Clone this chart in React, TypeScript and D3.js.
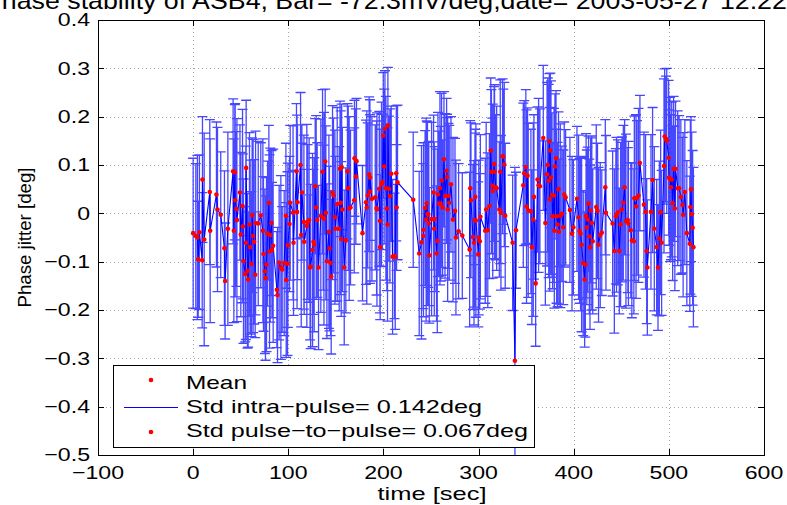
import * as d3 from "d3";
import { useEffect, useRef } from "react";

const W = 787;
const H = 505;

// time stamps [sec], mean phase [deg] and intra-pulse std [deg]
const timeSec = [
  0, 2.8, 4.5, 5.3, 6.6, 9.5, 9.8, 11.6, 17.5, 17.9,
  24.5, 25.6, 29, 32.9, 33.6, 36.5, 42, 42.8, 43.8, 44.2,
  45.5, 46, 49.2, 50.1, 51.9, 52.3, 52.9, 54.7, 55.4, 55.7,
  57.1, 57.8, 59.2, 59.9, 61.3, 62, 63, 64.1, 65.2, 65.6,
  68.4, 71.1, 73.3, 73.9, 75.4, 76, 77.1, 78.2, 79.6, 80.3,
  81, 82.4, 82.8, 84.1, 88, 88.7, 90.4, 92.2, 93.6, 95.7,
  97.5, 97.8, 99.2, 99.6, 101.3, 102, 105, 105.5, 108.6, 109.2,
  109.7, 112.9, 113.6, 114.3, 116.4, 116.7, 119.5, 120.3, 121.9, 122.9,
  123.5, 125.5, 126.5, 127.2, 128.3, 129.3, 130.4, 131.8, 134.2, 136,
  136.7, 137.5, 138.8, 139.5, 140.6, 142.7, 143.3, 144.4, 145.1, 146.5,
  147.5, 149, 149.5, 151.4, 153.5, 154.4, 155.1, 155.6, 156.1, 156.8,
  158.8, 160.5, 162.2, 163, 164, 165.4, 169.3, 169.6, 171, 171.7,
  178, 181.7, 182.5, 183.5, 185, 185.8, 186, 187.9, 191.4, 192.8,
  193.2, 195.6, 196.3, 196.6, 198, 199, 199.8, 200.8, 201.6, 202.6,
  203.6, 204.3, 204.7, 205.8, 206.8, 208.2, 209.6, 211.6, 212.4, 213.5,
  213.8, 214.8, 231.3, 237.6, 240, 241.8, 242.1, 243.8, 244.9, 245.6,
  246.3, 247, 247.7, 248.2, 250.6, 252.7, 253.4, 254, 255.8, 256.6,
  257.3, 258.3, 259.4, 260.2, 261.1, 262.2, 263.6, 264.7, 266.4, 266.8,
  267.5, 268.3, 269.2, 271, 273.1, 275.2, 276.2, 279, 282.9, 290.6,
  291.3, 292, 294.1, 295.2, 296.2, 296.5, 297.2, 299.7, 300.2, 301.3,
  301.9, 307, 308, 309.7, 311.4, 312.8, 313.5, 314.5, 314.9, 316.3,
  316.8, 318.1, 319, 321.8, 322.8, 323.5, 325.2, 326, 327, 328,
  335.8, 338.2, 339.3, 347, 348, 349.7, 350.4, 351.5, 352.2, 355,
  356, 357.5, 358.2, 360, 362, 363.1, 364.5, 368, 370.2, 372,
  372.7, 373.7, 374.4, 374.7, 375.4, 376.1, 377.2, 377.8, 379.3, 379.6,
  380.3, 381.4, 382, 383, 384, 384.5, 385.9, 387.5, 389, 390,
  391.5, 396, 398.2, 399.6, 403.4, 405.1, 406.2, 407.2, 408.3, 410,
  411.5, 412.2, 413, 413.8, 414.7, 415.6, 416.4, 417.1, 417.8, 419,
  420, 423.7, 425, 426.1, 427.9, 429.5, 433.2, 433.9, 440.9, 442.7,
  444.3, 445, 446.5, 447.9, 449.3, 450.7, 452.1, 453.5, 454.9, 456.9,
  457.5, 460, 461.1, 463.2, 463.7, 465.5, 466.5, 468.1, 469.6, 473.8,
  475.5, 476.7, 477.4, 481.2, 482.9, 484.7, 487.2, 488.6, 490, 491.4,
  492.4, 494.9, 495.6, 497, 497.8, 499.8, 500.2, 501.2, 502.2, 503,
  504, 505, 506.3, 507, 509.3, 510.8, 512.6, 514.3, 515, 516.8,
  518.9, 522, 522.6, 523.3, 524, 525, 525.8,
];

const meanDeg = [
  -0.041, -0.047, -0.05, -0.095, -0.039, -0.097, 0.07, -0.054, 0.044, -0.036,
  0.039, 0.008, -0.003, -0.072, -0.14, -0.032, 0.087, -0.036, 0.085, 0.027,
  0.009, -0.014, 0.043, -0.044, 0.015, -0.027, -0.099, -0.126, -0.061, 0.094,
  -0.119, -0.137, -0.023, -0.07, -0.105, -0.004, -0.047, -0.059, -0.127, -0.02,
  -0.021, -0.004, -0.036, -0.084, -0.12, -0.134, -0.106, -0.042, 0.022, -0.079,
  -0.045, -0.02, -0.076, -0.067, -0.158, -0.169, -0.102, -0.112, -0.116, -0.103,
  -0.005, -0.138, -0.104, -0.066, -0.022, 0.022, 0.001, -0.061, 0.087, 0.003,
  0.023, 0.1, -0.045, 0.043, -0.018, -0.059, -0.026, -0.018, -0.014, -0.112,
  -0.11, -0.076, -0.059, -0.065, 0.056, 0.012, -0.014, -0.112, -0.005, 0.086,
  -0.009, -0.011, 0.107, 0.001, -0.099, -0.038, -0.073, -0.103, -0.131, 0.043,
  0.037, -0.008, -0.032, 0.019, -0.032, 0.092, 0.022, -0.053, 0.096, 0.008,
  -0.112, -0.056, 0.087, 0.052, 0.01, 0.012, 0.027, 0.114, 0.076, 0.108,
  -0.041, 0.023, 0.012, 0.037, 0.081, 0.045, 0.074, 0.03, 0.033, 0.011,
  0.008, 0.051, -0.016, -0.07, 0.06, 0.065, 0.161, 0.097, 0.175, 0.052,
  0.01, -0.023, 0.182, 0.051, 0.036, 0.082, -0.09, -0.088, -0.09, 0.083,
  0.012, 0.064, 0.028, -0.083, -0.06, -0.047, -0.034, 0.011, -0.013, 0.021,
  -0.001, -0.003, -0.021, -0.087, -0.012, 0.043, -0.032, -0.012, -0.083, -0.057,
  0.039, 0.02, 0.052, 0.02, 0.068, 0.012, 0.112, 0.036, 0.088, 0.075,
  0.008, 0.036, 0.022, 0.06, -0.013, 0.005, -0.05, -0.037, -0.046, -0.075,
  0.052, 0.027, -0.049, -0.061, -0.014, 0.034, -0.015, -0.085, -0.05, -0.058,
  -0.007, -0.036, 0.008, -0.035, 0.015, 0.13, 0.086, 0.057, 0.046, 0.102,
  0.086, 0.054, 0.052, 0.008, 0.086, 0.001, 0.118, 0.117, 0.101, -0.005,
  -0.061, -0.305, -0.035, 0.058, 0.083, 0.096, 0.014, 0.078, 0.006, 0.004,
  -0.07, -0.013, 0.034, -0.145, 0.07, 0.058, 0.056, 0.156, -0.02, 0.081,
  0.1, 0.067, 0.149, 0.029, 0.13, 0.074, 0.038, -0.006, 0.037, -0.036,
  0.097, 0.114, -0.006, -0.023, 0.05, -0.038, -0.005, -0.001, -0.029, 0.039,
  0.033, 0.007, -0.042, -0.029, 0.03, -0.008, -0.036, -0.042, -0.065, -0.103,
  -0.137, -0.106, -0.005, -0.029, -0.013, 0.02, -0.048, -0.07, 0.006, -0.02,
  -0.058, 0.013, 0.005, -0.065, -0.045, -0.04, 0.054, 0.001, -0.021, -0.078,
  -0.006, -0.003, 0.002, -0.078, -0.023, 0.008, 0.022, 0.054, -0.016, -0.014,
  -0.021, -0.035, -0.056, -0.058, 0.031, 0.014, 0.032, 0.037, 0.104, 0.018,
  0.003, -0.078, -0.112, 0.003, 0.069, -0.032, -0.07, -0.112, -0.052, 0.002,
  -0.061, 0.098, 0.159, 0.154, 0.15, 0.115, 0.074, 0.07, 0.054, 0.07,
  0.021, 0.092, 0.01, 0.092, 0.052, 0.052, 0.034, 0.017, -0.003, 0.044,
  -0.041, -0.063, 0.013, 0.05, -0.002, -0.03, -0.07,
];

const stdDeg = [
  0.155, 0.15, 0.17, 0.12, 0.16, 0.14, 0.13, 0.22, 0.15, 0.19,
  0.15, 0.17, 0.13, 0.16, 0.12, 0.2, 0.15, 0.19, 0.14, 0.2,
  0.16, 0.21, 0.14, 0.17, 0.2, 0.15, 0.17, 0.14, 0.2, 0.14,
  0.16, 0.14, 0.19, 0.18, 0.15, 0.16, 0.2, 0.17, 0.13, 0.19,
  0.17, 0.15, 0.19, 0.16, 0.17, 0.17, 0.18, 0.15, 0.16, 0.2,
  0.18, 0.15, 0.14, 0.2, 0.12, 0.14, 0.16, 0.19, 0.13, 0.15,
  0.15, 0.16, 0.19, 0.17, 0.14, 0.16, 0.18, 0.15, 0.14, 0.2,
  0.16, 0.15, 0.19, 0.14, 0.18, 0.15, 0.21, 0.16, 0.17, 0.15,
  0.17, 0.2, 0.15, 0.18, 0.14, 0.19, 0.16, 0.17, 0.2, 0.17,
  0.15, 0.22, 0.15, 0.18, 0.16, 0.2, 0.17, 0.15, 0.16, 0.18,
  0.16, 0.18, 0.15, 0.2, 0.17, 0.14, 0.19, 0.16, 0.13, 0.17,
  0.16, 0.15, 0.14, 0.17, 0.19, 0.16, 0.15, 0.12, 0.14, 0.13,
  0.14, 0.17, 0.2, 0.15, 0.16, 0.19, 0.13, 0.17, 0.15, 0.18,
  0.2, 0.16, 0.19, 0.15, 0.17, 0.14, 0.13, 0.16, 0.12, 0.19,
  0.17, 0.2, 0.12, 0.15, 0.18, 0.14, 0.16, 0.13, 0.15, 0.14,
  0.13, 0.16, 0.14, 0.17, 0.2, 0.15, 0.18, 0.16, 0.21, 0.17,
  0.19, 0.15, 0.17, 0.14, 0.2, 0.16, 0.18, 0.15, 0.14, 0.19,
  0.17, 0.15, 0.2, 0.16, 0.18, 0.14, 0.14, 0.17, 0.15, 0.13,
  0.19, 0.15, 0.16, 0.14, 0.17, 0.15, 0.16, 0.14, 0.13, 0.16,
  0.14, 0.16, 0.15, 0.17, 0.18, 0.14, 0.2, 0.15, 0.16, 0.14,
  0.17, 0.15, 0.18, 0.16, 0.15, 0.15, 0.17, 0.14, 0.18, 0.16,
  0.18, 0.15, 0.17, 0.14, 0.19, 0.16, 0.16, 0.14, 0.17, 0.15,
  0.14, 0.4, 0.12, 0.17, 0.15, 0.16, 0.2, 0.14, 0.18, 0.17,
  0.16, 0.2, 0.17, 0.13, 0.15, 0.18, 0.16, 0.15, 0.17, 0.19,
  0.18, 0.2, 0.14, 0.19, 0.16, 0.2, 0.17, 0.15, 0.18, 0.16,
  0.15, 0.14, 0.18, 0.17, 0.16, 0.15, 0.19, 0.14, 0.16, 0.15,
  0.14, 0.15, 0.16, 0.14, 0.15, 0.17, 0.15, 0.16, 0.18, 0.15,
  0.14, 0.15, 0.17, 0.16, 0.15, 0.14, 0.16, 0.17, 0.15, 0.18,
  0.15, 0.17, 0.14, 0.16, 0.15, 0.13, 0.14, 0.16, 0.15, 0.17,
  0.14, 0.16, 0.15, 0.13, 0.17, 0.15, 0.16, 0.14, 0.18, 0.15,
  0.17, 0.14, 0.16, 0.15, 0.17, 0.19, 0.16, 0.18, 0.14, 0.15,
  0.16, 0.15, 0.14, 0.16, 0.15, 0.17, 0.14, 0.13, 0.16, 0.17,
  0.15, 0.18, 0.14, 0.13, 0.15, 0.16, 0.14, 0.17, 0.15, 0.16,
  0.16, 0.15, 0.17, 0.14, 0.16, 0.15, 0.16, 0.14, 0.17, 0.15,
  0.15, 0.14, 0.18, 0.15, 0.17, 0.16, 0.165,
];

const xTicks = [-100, 0, 100, 200, 300, 400, 500, 600];
const yTicks = [-0.5, -0.4, -0.3, -0.2, -0.1, 0, 0.1, 0.2, 0.3, 0.4];
const titleText = "Phase stability of ASB4, Bar= -72.3mV/deg,date= 2003-05-27 12:22:22";
const xLabel = "time [sec]";
const yLabel = "Phase jitter [deg]";
const legendLabels = ["Mean", "Std intra\u2212pulse= 0.142deg", "Std pulse\u2212to\u2212pulse= 0.067deg"];

const FONT = "'Liberation Sans', Arial, Helvetica, sans-serif";

const fmt = (v: number) => {
  const s = Math.abs(v) < 1e-9 ? "0" : String(Math.round(v * 10) / 10);
  return s.replace("-", "\u2212");
};

const App = () => {
  const svgRef = useRef<SVGSVGElement>(null);

  useEffect(() => {
    document.body.style.margin = "0";
    const svg = d3.select(svgRef.current);
    svg.selectAll("*").remove();

    const left = 98, right = 764, top = 20, bottom = 455;
    const x = d3.scaleLinear().domain([-100, 600]).range([left, right]);
    const y = d3.scaleLinear().domain([-0.5, 0.4]).range([bottom, top]);

    svg.append("rect").attr("width", W).attr("height", H).attr("fill", "#fff");

    // title (its upper half is cut off by the page edge, as in the source)
    svg
      .append("text")
      .attr("x", -16)
      .attr("y", 9)
      .attr("font-family", FONT)
      .attr("font-size", 24)
      .attr("textLength", 840)
      .attr("lengthAdjust", "spacingAndGlyphs")
      .text(titleText);

    // grid
    const grid = svg
      .append("g")
      .attr("stroke", "#a8a8a8")
      .attr("stroke-width", 1)
      .attr("stroke-dasharray", "1,3");
    xTicks.slice(1, -1).forEach((t) => {
      grid.append("line").attr("x1", Math.round(x(t)) + 0.5).attr("x2", Math.round(x(t)) + 0.5)
        .attr("y1", top).attr("y2", bottom);
    });
    yTicks.slice(1, -1).forEach((t) => {
      grid.append("line").attr("y1", Math.round(y(t)) + 0.5).attr("y2", Math.round(y(t)) + 0.5)
        .attr("x1", left).attr("x2", right);
    });

    // data, clipped to the axes
    svg.append("defs").append("clipPath").attr("id", "plotArea")
      .append("rect").attr("x", left).attr("y", top).attr("width", right - left).attr("height", bottom - top);
    const plot = svg.append("g").attr("clip-path", "url(#plotArea)");

    const n = Math.min(timeSec.length, meanDeg.length, stdDeg.length);
    const pts = d3.range(n).map((i) => ({ t: timeSec[i], m: meanDeg[i], s: stdDeg[i] }));
    const tee = (d3.max(timeSec)! - d3.min(timeSec)!) / 100;

    const bars = d3.path();
    pts.forEach((p) => {
      const cx = x(p.t);
      const lo = y(p.m - p.s);
      const hi = y(p.m + p.s);
      const xl = x(p.t - tee);
      const xr = x(p.t + tee);
      bars.moveTo(cx, lo);
      bars.lineTo(cx, hi);
      bars.moveTo(xl, hi);
      bars.lineTo(xr, hi);
      bars.moveTo(xl, lo);
      bars.lineTo(xr, lo);
    });
    plot.append("path")
      .attr("d", bars.toString())
      .attr("fill", "none")
      .attr("stroke", "#0000ff")
      .attr("stroke-opacity", 0.72)
      .attr("stroke-width", 1.3);

    const line = d3.line<{ t: number; m: number }>().x((d) => x(d.t)).y((d) => y(d.m));
    plot.append("path")
      .datum(pts)
      .attr("d", line)
      .attr("fill", "none")
      .attr("stroke", "#0000ff")
      .attr("stroke-width", 1.1);

    plot.append("g")
      .selectAll("circle")
      .data(pts)
      .join("circle")
      .attr("cx", (d) => x(d.t))
      .attr("cy", (d) => y(d.m))
      .attr("r", 2.3)
      .attr("fill", "#ff0000");

    // axes box and inward ticks
    const axes = svg.append("g").attr("stroke", "#000").attr("stroke-width", 1);
    axes.append("rect").attr("x", left + 0.5).attr("y", top + 0.5)
      .attr("width", right - left).attr("height", bottom - top).attr("fill", "none");
    const tl = 6;
    xTicks.forEach((t) => {
      const px = Math.round(x(t)) + 0.5;
      axes.append("line").attr("x1", px).attr("x2", px).attr("y1", bottom).attr("y2", bottom - tl);
      axes.append("line").attr("x1", px).attr("x2", px).attr("y1", top).attr("y2", top + tl);
    });
    yTicks.forEach((t) => {
      const py = Math.round(y(t)) + 0.5;
      axes.append("line").attr("y1", py).attr("y2", py).attr("x1", left).attr("x2", left + tl);
      axes.append("line").attr("y1", py).attr("y2", py).attr("x1", right).attr("x2", right - tl);
    });

    // tick labels (horizontally stretched like the source)
    xTicks.forEach((t) => {
      svg.append("g")
        .attr("transform", `translate(${x(t)},479) scale(1.25,1)`)
        .append("text")
        .attr("text-anchor", "middle")
        .attr("font-family", FONT)
        .attr("font-size", 18.5)
        .text(fmt(t));
    });
    yTicks.forEach((t) => {
      svg.append("g")
        .attr("transform", `translate(90,${y(t)}) scale(1.25,1)`)
        .append("text")
        .attr("text-anchor", "end")
        .attr("dy", "0.35em")
        .attr("font-family", FONT)
        .attr("font-size", 18.5)
        .text(fmt(t));
    });

    svg.append("text")
      .attr("x", 432)
      .attr("y", 500)
      .attr("text-anchor", "middle")
      .attr("font-family", FONT)
      .attr("font-size", 18.5)
      .attr("textLength", 109)
      .attr("lengthAdjust", "spacingAndGlyphs")
      .text(xLabel);

    svg.append("text")
      .attr("transform", `translate(31,${(top + bottom) / 2}) rotate(-90)`)
      .attr("text-anchor", "middle")
      .attr("font-family", FONT)
      .attr("font-size", 18.5)
      .attr("textLength", 140)
      .attr("lengthAdjust", "spacingAndGlyphs")
      .text(yLabel);

    // legend
    const lg = svg.append("g");
    lg.append("rect").attr("x", 113.5).attr("y", 365.5).attr("width", 421).attr("height", 82)
      .attr("fill", "#fff").attr("stroke", "#000").attr("stroke-width", 1);
    lg.append("circle").attr("cx", 151).attr("cy", 380).attr("r", 2.3).attr("fill", "#ff0000");
    lg.append("line").attr("x1", 124).attr("x2", 178).attr("y1", 407.5).attr("y2", 407.5)
      .attr("stroke", "#0000ff").attr("stroke-width", 1);
    lg.append("circle").attr("cx", 151).attr("cy", 432).attr("r", 2.3).attr("fill", "#ff0000");
    const lens = [61, 296, 342];
    const bases = [389, 413, 437];
    legendLabels.forEach((lab, i) => {
      lg.append("text")
        .attr("x", 186)
        .attr("y", bases[i])
        .attr("font-family", FONT)
        .attr("font-size", 18.5)
        .attr("textLength", lens[i])
        .attr("lengthAdjust", "spacingAndGlyphs")
        .text(lab);
    });
  }, []);

  return <svg ref={svgRef} width={W} height={H} style={{ display: "block" }}></svg>;
};

export default App;
